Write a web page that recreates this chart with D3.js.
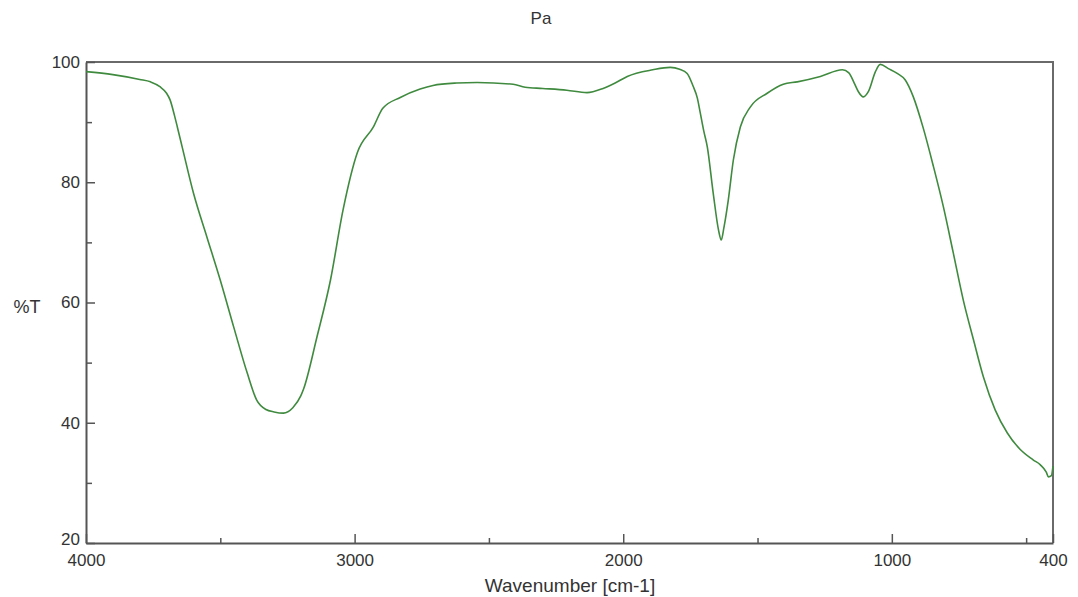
<!DOCTYPE html>
<html lang="en">
<head>
    <meta charset="utf-8">
    <title>Pa IR spectrum</title>
    <script type="text/javascript" src="https://cdn.jsdelivr.net/npm/d3@7"></script>
    <style>
        body { margin: 0; background: #fff; }
        text { font-family: "Liberation Sans", Arial, sans-serif; fill: #333; }
    </style>
</head>
<body>
<script type="text/javascript">
    // spectrum
    var wavenumber = [
        4000, 3900, 3800, 3760, 3725, 3700, 3687, 3670, 3660, 3640,
        3600, 3550, 3500, 3450, 3400, 3365, 3330, 3300, 3265, 3230,
        3200, 3190, 3140, 3090, 3043, 2990, 2930, 2895, 2830, 2756,
        2708, 2620, 2544, 2410, 2365, 2300, 2210, 2135, 2075, 2030,
        1985, 1890, 1825, 1790, 1762, 1740, 1724, 1713, 1700, 1687,
        1665, 1645, 1635, 1625, 1609, 1590, 1564, 1527, 1464, 1404,
        1352, 1266, 1184, 1160, 1140, 1125, 1106, 1087, 1061, 1043,
        1013, 980, 950, 920, 883, 845, 808, 771, 734, 696,
        659, 615, 570, 521, 473, 447, 425, 417, 406, 400
    ];
    var transmittance = [
        98.4, 97.9, 97.1, 96.7, 95.9, 94.8, 93.7, 91.0, 89.2, 85.5,
        78.2, 70.9, 63.7, 55.9, 48.3, 43.8, 42.2, 41.8, 41.6, 42.5,
        44.5, 45.6, 54.3, 63.7, 75.4, 84.9, 89.2, 92.3, 94.1, 95.5,
        96.1, 96.5, 96.6, 96.3, 95.8, 95.6, 95.3, 94.9, 95.6, 96.5,
        97.6, 98.7, 99.1, 98.8, 98.1, 96.0, 94.0, 91.5, 88.5, 85.9,
        78.2, 72.0, 70.4, 72.5, 77.0, 83.7, 89.2, 92.5, 94.8, 96.3,
        96.7, 97.6, 98.7, 98.2, 96.5, 95.1, 94.2, 95.1, 98.4, 99.6,
        98.9, 98.1, 97.0, 94.2, 89.0, 82.6, 75.9, 68.2, 60.4, 53.8,
        47.6, 42.1, 38.3, 35.5, 33.8, 33.0, 31.8, 31.0, 31.2, 32.8
    ];
    var xTickLabels = [4000, 3000, 2000, 1000, 400];
    var xMinorTicks = [3500, 2500, 1500, 500];
    var yTickLabels = [20, 40, 60, 80, 100];
    var yMinorTicks = [30, 50, 70, 90];

    var w = 1078;
    var h = 597;
    var margin = {top: 62, right: 25, bottom: 54, left: 86};
    var pw = w - margin.left - margin.right;
    var ph = h - margin.top - margin.bottom;

    var dataset = wavenumber.map(function(d, i) {
        return [d, transmittance[i]];
    });

    var xScale = d3.scaleLinear()
        .domain([4000, 400])
        .range([0, pw]);
    var yScale = d3.scaleLinear()
        .domain([20, 100])
        .range([ph, 0]);

    var svg = d3.select("body")
        .append("svg")
        .attr("width", w)
        .attr("height", h);

    var g = svg.append("g")
        .attr("transform", "translate(" + margin.left + "," + margin.top + ")");

    // top and right frame
    g.append("path")
        .attr("d", "M0,0H" + pw + "V" + ph)
        .attr("fill", "none")
        .attr("stroke", "#6a6a6a")
        .attr("stroke-width", 2);

    // x axis: ticks point inward
    g.append("g")
        .attr("transform", "translate(0," + ph + ")")
        .call(d3.axisBottom(xScale).tickValues(xTickLabels).tickFormat(d3.format("d"))
            .tickSizeInner(-9).tickSizeOuter(0).tickPadding(11));
    g.append("g")
        .attr("transform", "translate(0," + ph + ")")
        .call(d3.axisBottom(xScale).tickValues(xMinorTicks).tickSizeInner(-5).tickSizeOuter(0).tickFormat(""))
        .select(".domain").remove();

    // y axis
    var yAxis = g.append("g")
        .call(d3.axisLeft(yScale).tickValues(yTickLabels).tickFormat(d3.format("d"))
            .tickSizeInner(-9).tickSizeOuter(0).tickPadding(6));
    g.append("g")
        .call(d3.axisLeft(yScale).tickValues(yMinorTicks).tickSizeInner(-6).tickSizeOuter(0).tickFormat(""))
        .select(".domain").remove();

    svg.selectAll(".domain").attr("stroke", "#555").attr("stroke-width", 2);
    svg.selectAll(".tick line").attr("stroke", "#555").attr("stroke-width", 1.5);
    svg.selectAll(".tick text")
        .attr("font-size", "17px")
        .attr("font-family", "Liberation Sans, Arial, sans-serif")
        .attr("fill", "#333");

    // lift the bottom label a bit so it clears "4000"
    yAxis.selectAll(".tick text")
        .filter(function(d) { return d === 20; })
        .attr("dy", "0.1em");

    // spectrum line
    var line = d3.line()
        .x(function(d) { return xScale(d[0]); })
        .y(function(d) { return yScale(d[1]); })
        .curve(d3.curveMonotoneX);

    g.append("path")
        .datum(dataset)
        .attr("d", line)
        .attr("fill", "none")
        .attr("stroke", "#3f8a3f")
        .attr("stroke-width", 1.6);

    // labels
    svg.append("text")
        .attr("x", 541)
        .attr("y", 24)
        .attr("text-anchor", "middle")
        .attr("font-size", "17px")
        .text("Pa");

    svg.append("text")
        .attr("x", 570)
        .attr("y", 592)
        .attr("text-anchor", "middle")
        .attr("font-size", "19px")
        .text("Wavenumber [cm-1]");

    svg.append("text")
        .attr("x", 27)
        .attr("y", 313)
        .attr("text-anchor", "middle")
        .attr("font-size", "18px")
        .text("%T");
</script>
</body>
</html>
